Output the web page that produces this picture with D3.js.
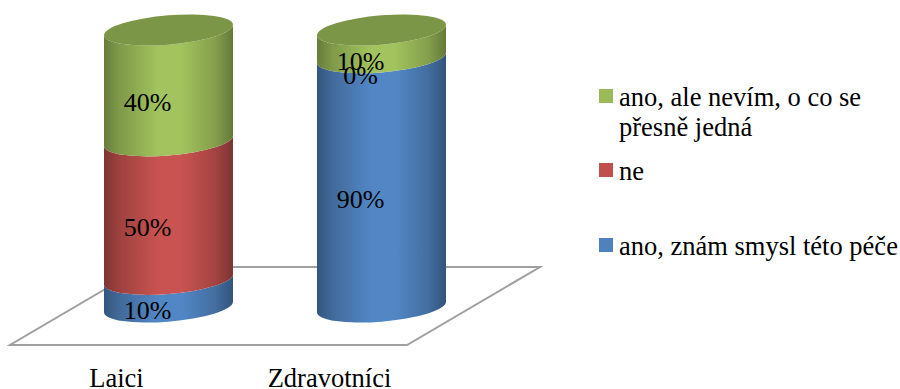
<!DOCTYPE html>
<html lang="cs">
<head>
<meta charset="utf-8">
<script src="https://cdn.jsdelivr.net/npm/d3@7"></script>
<style>
html, body { margin: 0; background: #fff; }
svg { display: block; }
text { font-family: "Liberation Serif", serif; fill: #000; }
</style>
</head>
<body>
<svg id="chart" width="900" height="389"></svg>
<script>
// Share of answers per group, stacked from the bottom up.
const categories = ["Laici", "Zdravotníci"];
const knowsMeaning = [10, 90];
const answeredNo = [50, 0];
const unsureWhat = [40, 10];
const seriesColors = ["#4f81bd", "#c0504d", "#9bbb59"];
const legendLines = [["ano, znám smysl této péče"], ["ne"], ["ano, ale nevím, o co se", "přesně jedná"]];

const svg = d3.select("#chart");

const y = d3.scaleLinear().domain([0, 100]).range([307, 30]);
const x = d3.scaleBand().domain(categories).range([62, 488]);
const radiusX = 64.5, radiusY = 14.7;
const tilt = -0.08;

const layers = d3.stack().keys([0, 1, 2]).value((row, k) => row[k])(
  categories.map((_, i) => [knowsMeaning[i], answeredNo[i], unsureWhat[i]])
);

// Lateral shading of a cylinder: dark edges, light centre.
const defs = svg.append("defs");
seriesColors.forEach((c, i) => {
  const base = d3.rgb(c);
  const g = defs.append("linearGradient").attr("id", "side" + i);
  const stops = [[0, base.darker(1.15)], [0.12, base.darker(0.55)], [0.42, base.brighter(0.12)],
                 [0.6, base.brighter(0.12)], [0.86, base.darker(0.45)], [1, base.darker(1.2)]];
  stops.forEach(s => g.append("stop").attr("offset", s[0]).attr("stop-color", s[1].formatHex()));
});

// Floor of the 3D plot
const floorPoints = [[10, 345], [407, 345], [540, 267], [143, 267]];
svg.append("path")
  .attr("d", d3.line()(floorPoints) + "Z")
  .attr("fill", "#fff")
  .attr("stroke", "#a0a0a0")
  .attr("stroke-width", 2);

// One cylinder section: body with a rounded bottom, and the next section's curve on top.
function sectionPath(y0, y1) {
  const a = radiusX, b = radiusY;
  return `M${-a},${y1}L${-a},${y0}A${a},${b} 0 0 0 ${a},${y0}L${a},${y1}A${a},${b} 0 0 1 ${-a},${y1}Z`;
}

categories.forEach((cat, ci) => {
  const cx = x(cat) + x.bandwidth() / 2;
  const drawn = layers.map((layer, si) => ({ si, v0: layer[ci][0], v1: layer[ci][1] }))
    .filter(d => d.v1 > d.v0);
  const skewed = svg.append("g")
    .attr("transform", `translate(${cx},0) matrix(1,${tilt},0,1,0,0)`);
  skewed.selectAll("path.section").data(drawn).join("path")
    .attr("class", "section")
    .attr("d", d => sectionPath(y(d.v0), y(d.v1)))
    .attr("fill", d => `url(#side${d.si})`);
  const top = drawn[drawn.length - 1];
  skewed.append("ellipse")
    .attr("cx", 0).attr("cy", y(100)).attr("rx", radiusX).attr("ry", radiusY)
    .attr("fill", d3.rgb(seriesColors[top.si]).darker(0.62).formatHex());
});

// Percentage labels sit on the front of each section, left of the axis.
const fontSize = 26.5;
const labelFontSize = 26;
categories.forEach((cat, ci) => {
  const cx = x(cat) + x.bandwidth() / 2;
  layers.forEach(layer => {
    const [v0, v1] = layer[ci];
    svg.append("text")
      .attr("x", cx - 21)
      .attr("y", y((v0 + v1) / 2) + 26)
      .attr("text-anchor", "middle")
      .attr("font-size", labelFontSize)
      .text(Math.round(v1 - v0) + "%");
  });
});

// Category axis below the floor
svg.selectAll("text.cat").data(categories).join("text")
  .attr("class", "cat")
  .attr("x", d => x(d) + x.bandwidth() / 2 - 52)
  .attr("y", 387)
  .attr("text-anchor", "middle")
  .attr("font-size", fontSize)
  .text(d => d);

// Legend, listed from the top series down
const legendRows = [
  { si: 2, y: 106 },
  { si: 1, y: 180 },
  { si: 0, y: 255 }
];
legendRows.forEach(row => {
  svg.append("rect")
    .attr("x", 599).attr("y", row.y - 17)
    .attr("width", 14).attr("height", 14)
    .attr("fill", seriesColors[row.si]);
  const t = svg.append("text").attr("font-size", fontSize);
  legendLines[row.si].forEach((line, i) => {
    t.append("tspan").attr("x", 619).attr("y", row.y + i * 30).text(line);
  });
});
</script>
</body>
</html>
